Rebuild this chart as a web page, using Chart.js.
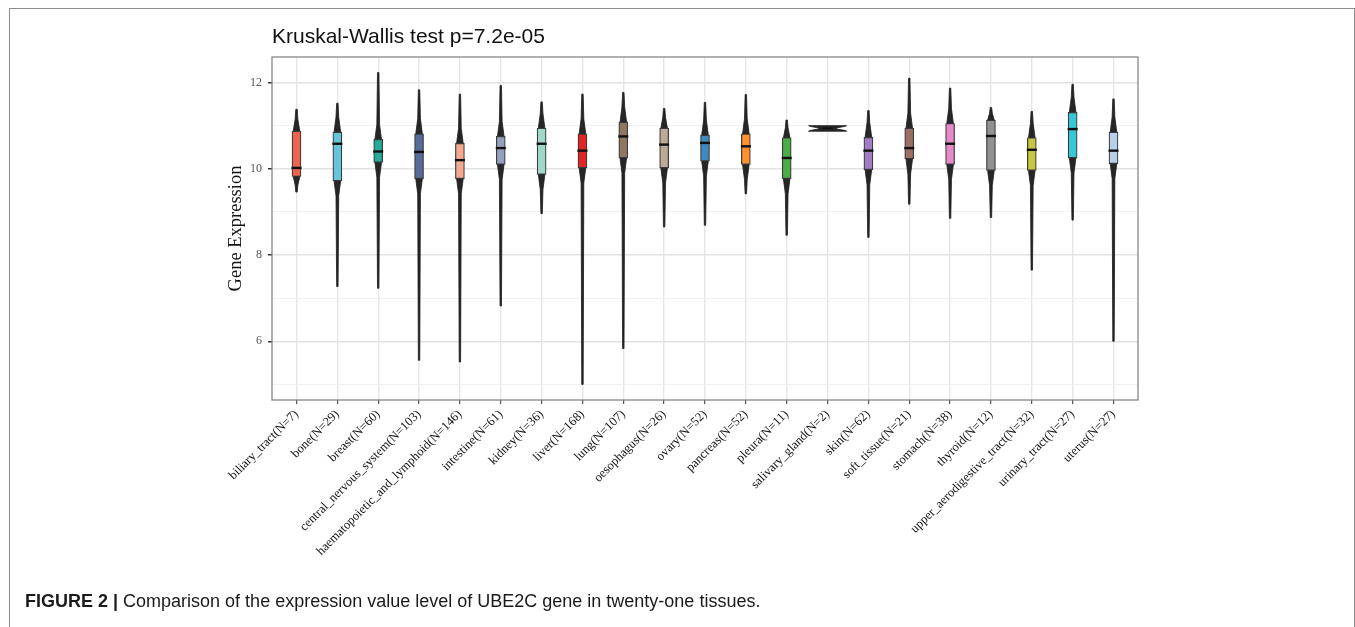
<!DOCTYPE html>
<html>
<head>
<meta charset="utf-8">
<script src="https://cdn.jsdelivr.net/npm/chart.js@4.4.1/dist/chart.umd.min.js"></script>
<style>
  html, body { margin: 0; padding: 0; background: #fff; }
  body { width: 1355px; height: 627px; position: relative; overflow: hidden; }
  #frame { position: absolute; left: 9px; top: 8px; width: 1346px; height: 680px;
           border: 1.5px solid #8c8c8c; box-sizing: border-box; }
  #wrap { position: absolute; left: 0; top: 0; width: 1355px; height: 627px; }
  #caption { position: absolute; left: 25px; top: 591px; white-space: nowrap;
             font-family: "Liberation Sans", Arial, sans-serif; font-size: 18px; color: #1a1a1a; }
  #caption b { font-weight: bold; }
</style>
</head>
<body>
<div id="frame"></div>
<div id="wrap"><canvas id="chart" width="1355" height="627"></canvas></div>
<div id="caption"><b>FIGURE 2 |</b> Comparison of the expression value level of UBE2C gene in twenty-one tissues.</div>
<script>
// UBE2C expression per tissue: violin + box summary
const tissues = [
  'biliary_tract', 'bone', 'breast', 'central_nervous_system', 'haematopoietic_and_lymphoid',
  'intestine', 'kidney', 'liver', 'lung', 'oesophagus', 'ovary', 'pancreas', 'pleura',
  'salivary_gland', 'skin', 'soft_tissue', 'stomach', 'thyroid', 'upper_aerodigestive_tract',
  'urinary_tract', 'uterus'
];
const sampleSizes   = [7, 29, 60, 103, 146, 61, 36, 168, 107, 26, 52, 52, 11, 2, 62, 21, 38, 12, 32, 27, 27];
const lowest        = [9.46, 7.27, 7.23, 5.56, 5.52, 6.82, 8.96, 5.00, 5.83, 8.65, 8.69, 9.42, 8.46, 10.87, 8.41, 9.18, 8.85, 8.87, 7.65, 8.81, 6.00];
const lowerQuartile = [9.82, 9.72, 10.15, 9.77, 9.77, 10.10, 9.87, 10.02, 10.25, 10.02, 10.18, 10.10, 9.77, 10.9025, 9.98, 10.23, 10.10, 9.96, 9.96, 10.25, 10.12];
const medians       = [10.02, 10.58, 10.40, 10.39, 10.20, 10.48, 10.58, 10.42, 10.75, 10.56, 10.60, 10.52, 10.25, 10.935, 10.42, 10.48, 10.58, 10.76, 10.44, 10.92, 10.42];
const upperQuartile = [10.87, 10.85, 10.68, 10.81, 10.59, 10.75, 10.94, 10.81, 11.08, 10.94, 10.78, 10.81, 10.72, 10.9675, 10.73, 10.94, 11.05, 11.13, 10.72, 11.31, 10.85];
const highest       = [11.38, 11.52, 12.23, 11.83, 11.73, 11.93, 11.55, 11.73, 11.77, 11.40, 11.54, 11.72, 11.13, 11.00, 11.35, 12.10, 11.87, 11.42, 11.33, 11.96, 11.62];
const yTicks = [5, 6, 7, 8, 9, 10, 11, 12];
const palette = [
  '#E64B35', '#4DBBD5', '#00A087', '#3C5488', '#F39B7F', '#8491B4', '#91D1C2', '#DC0000',
  '#7E6148', '#B09C85', '#1F77B4', '#FF7F0E', '#2CA02C', '#D62728', '#9467BD', '#8C564B',
  '#E377C2', '#7F7F7F', '#BCBD22', '#17BECF', '#AEC7E8'
];
const titleText = 'Kruskal-Wallis test p=7.2e-05';

const tickLabels = tissues.map((t, i) => `${t}(N=${sampleSizes[i]})`);

// y range: data range widened by 5% on both sides
const dataLo = Math.min(...lowest), dataHi = Math.max(...highest);
const pad = (dataHi - dataLo) * 0.05;
const yLo = dataLo - pad, yHi = dataHi + pad;

// box fill: palette colour at partial opacity over white
function tint(hex, a) {
  const n = parseInt(hex.slice(1), 16);
  const c = [(n >> 16) & 255, (n >> 8) & 255, n & 255].map(v => Math.round(v * a + 255 * (1 - a)));
  return `rgb(${c[0]},${c[1]},${c[2]})`;
}
const boxFills = palette.map(h => tint(h, 0.86));

const SERIF = '"Liberation Serif", "Times New Roman", serif';
const SANS = '"Liberation Sans", Arial, sans-serif';

// violin outline as [value, half-width px] pairs
function violinProfile(i) {
  const lo = lowest[i], hi = highest[i], q1 = lowerQuartile[i], q3 = upperQuartile[i];
  if (sampleSizes[i] <= 2) {
    // two observations: gaussian kernel density (nrd0 bandwidth), trimmed to the data
    const pts = [lo, hi];
    const d = hi - lo;
    const bw = 0.9 * Math.min(d / Math.SQRT2, 0.5 * d / 1.34) * Math.pow(2, -0.2);
    const steps = 24, out = [];
    let peak = 0;
    for (let k = 0; k <= steps; k++) {
      const v = hi - d * k / steps;
      const dens = pts.reduce((s, p) => s + Math.exp(-0.5 * ((v - p) / bw) ** 2), 0);
      peak = Math.max(peak, dens);
      out.push([v, dens]);
    }
    return out.map(([v, dens]) => [v, 19 * dens / peak]);
  }
  const up = Math.min(0.35, (hi - q3) * 0.55);
  const dn = Math.min(0.35, (q1 - lo) * 0.55);
  return [[hi, 0.7], [q3 + up, 1.35], [q3, 3.3], [q1, 3.3], [q1 - dn, 1.35], [lo, 0.7]];
}

const violinPlugin = {
  id: 'violins',
  beforeDatasetsDraw(chart) {
    const { ctx, chartArea: a, scales: { x, y } } = chart;
    ctx.save();
    ctx.beginPath();
    ctx.rect(a.left, a.top, a.right - a.left, a.bottom - a.top);
    ctx.clip();
    tissues.forEach((_, i) => {
      const prof = violinProfile(i);
      const cx = x.getPixelForValue(i);
      ctx.beginPath();
      prof.forEach(([v, w], k) => {
        const py = y.getPixelForValue(v);
        if (k === 0) ctx.moveTo(cx - w, py); else ctx.lineTo(cx - w, py);
      });
      for (let k = prof.length - 1; k >= 0; k--) {
        const [v, w] = prof[k];
        ctx.lineTo(cx + w, y.getPixelForValue(v));
      }
      ctx.closePath();
      ctx.fillStyle = '#262626';
      ctx.fill();
      ctx.lineWidth = 0.8;
      ctx.strokeStyle = '#1a1a1a';
      ctx.stroke();
    });
    ctx.restore();
  }
};

const framePlugin = {
  id: 'panelFrame',
  afterDraw(chart) {
    const { ctx, chartArea: a } = chart;
    ctx.save();
    ctx.strokeStyle = '#7d7d7d';
    ctx.lineWidth = 1.2;
    ctx.strokeRect(a.left, a.top, a.right - a.left, a.bottom - a.top);
    ctx.fillStyle = '#111';
    ctx.font = `21px ${SANS}`;
    ctx.textAlign = 'left';
    ctx.textBaseline = 'alphabetic';
    ctx.fillText(titleText, a.left, 43);
    ctx.restore();
  }
};

const isMajor = v => v % 2 === 0;

new Chart(document.getElementById('chart'), {
  type: 'bar',
  data: {
    datasets: [
      {
        type: 'scatter',
        label: 'median',
        data: tissues.map((_, i) => ({ x: i, y: medians[i] })),
        pointStyle: 'line',
        pointRadius: 5,
        pointBorderWidth: 2.4,
        pointBorderColor: '#111',
        borderColor: '#111',
        order: 1
      },
      {
        type: 'bar',
        label: 'IQR',
        data: tissues.map((_, i) => ({ x: i, y: [lowerQuartile[i], upperQuartile[i]] })),
        backgroundColor: boxFills,
        borderColor: '#3a3a3a',
        borderWidth: 1.2,
        borderSkipped: false,
        barThickness: 9,
        order: 2
      }
    ]
  },
  options: {
    responsive: false,
    animation: false,
    events: [],
    layout: { padding: { left: 222, right: 217, top: 57, bottom: 0 } },
    plugins: { legend: { display: false }, tooltip: { enabled: false }, title: { display: false } },
    scales: {
      x: {
        type: 'linear',
        min: -0.6,
        max: tissues.length - 1 + 0.6,
        offset: false,
        afterBuildTicks: s => { s.ticks = tissues.map((_, i) => ({ value: i })); },
        afterFit: s => { s.height = 227; },
        border: { display: false },
        grid: { offset: false, color: '#e6e6e6', lineWidth: 1.4, drawTicks: true, tickLength: 4, tickColor: '#333', tickWidth: 1 },
        ticks: {
          autoSkip: false, minRotation: 45, maxRotation: 45, padding: 3,
          color: '#111', font: { family: SERIF, size: 12.6 },
          callback: v => tickLabels[v]
        }
      },
      y: {
        type: 'linear',
        min: yLo,
        max: yHi,
        afterBuildTicks: s => { s.ticks = yTicks.map(v => ({ value: v })); },
        afterFit: s => { s.width = 50; },
        border: { display: false },
        grid: {
          color: c => (c.tick && isMajor(c.tick.value)) ? '#e2e2e2' : '#efefef',
          lineWidth: c => (c.tick && isMajor(c.tick.value)) ? 1.5 : 0.9,
          tickLength: 4,
          tickColor: c => (c.tick && isMajor(c.tick.value)) ? '#333' : 'rgba(0,0,0,0)'
        },
        ticks: {
          padding: 6, color: '#555', font: { family: SERIF, size: 12 },
          callback: v => isMajor(v) ? String(v) : ''
        },
        title: { display: true, text: 'Gene Expression', color: '#111', font: { family: SERIF, size: 18.5 }, padding: { top: 3, bottom: 4 } }
      }
    }
  },
  plugins: [violinPlugin, framePlugin]
});
</script>
</body>
</html>
